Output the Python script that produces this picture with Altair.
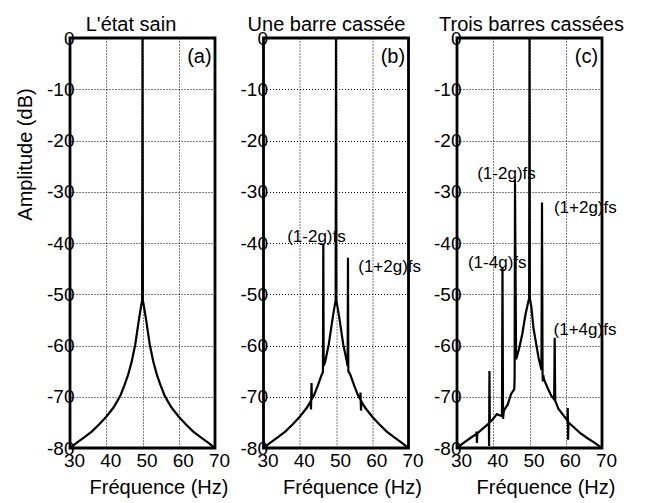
import altair as alt
import pandas as pd

FONT = "Liberation Sans"

# ---------------- data ----------------
freq_a = [30, 32, 34, 36, 38, 40, 42, 43, 44, 45, 46, 47, 48, 49, 49.5, 49.9, 50,
          50.1, 50.5, 51, 52, 53, 54, 55, 56, 57, 58, 60, 62, 64, 66, 68, 70]
amp_a = [-80, -78.9, -77.9, -76.8, -75.4, -73.9, -72.1, -70.9, -69.6, -67.8, -65.8, -63.2, -59.8, -55, -52.8, -51.2, 0,
         -51.2, -52.8, -55, -59.8, -63.2, -65.8, -67.8, -69.6, -70.9, -72.1, -73.9, -75.4, -76.8, -77.9, -78.9, -80]

freq_b = [30, 32, 34, 36, 38, 40, 42, 43.0, 43.1, 43.25, 43.35, 44, 45, 46, 46.4, 46.5, 46.6, 47, 48, 49, 49.5, 49.9, 50,
          50.1, 50.5, 51, 52, 53, 53.2, 53.3, 53.4, 54, 55, 56, 56.7, 56.75, 56.9, 57, 58, 60, 62, 64, 66, 68, 70]
amp_b = [-80, -78.9, -77.9, -76.8, -75.4, -73.9, -72.1, -70.9, -72.5, -67.3, -70.4, -69.6, -67.8, -65.8, -65.2, -40.1, -64.0, -63.2, -59.8, -55, -52.8, -51.2, 0,
         -51.2, -52.8, -55, -59.8, -63.2, -64.0, -42.9, -65.0, -65.8, -67.8, -69.6, -70.5, -69.2, -72.7, -70.9, -72.1, -73.9, -75.4, -76.8, -77.9, -78.9, -80]

freq_c = [30, 32, 34, 35.3, 35.4, 35.5, 35.6, 36, 38, 38.8, 38.85, 38.95, 39.05, 40, 41, 42.4, 42.55, 42.7, 42.85, 43, 44, 44.9, 45.8, 45.9, 46.0, 46.3,
          47.1, 48, 48.9, 49.5, 49.9, 50,
          50.1, 50.5, 51.1, 52.5, 53.3, 53.45, 53.6, 53.7, 53.8, 54, 55, 56, 56.8, 56.95, 57.1, 58, 60, 60.5, 60.55, 60.65, 60.75, 62, 64, 66, 68, 70]
amp_c = [-80, -78.9, -77.9, -77.3, -76.8, -79.0, -77.2, -76.9, -75.7, -75.2, -79.6, -65.0, -75.0, -74.3, -73.4, -73.8, -44.8, -74.3, -73.2, -72.6, -71.5, -69.5, -68.5, -66.0, -27.6, -62.7,
          -60.7, -57.8, -53.9, -52.0, -50.8, 0,
          -50.8, -52.4, -56.6, -62.4, -64.8, -32.1, -65.5, -67.0, -65.8, -66.6, -68.3, -69.8, -70.5, -58.5, -70.8, -72.4, -74.2, -74.8, -72.2, -78.4, -75.0, -75.8, -77.1, -78.1, -79.0, -80]

ann_text_b = ["(1-2g)fs", "(1+2g)fs"]
ann_f_b = [44.6, 64.8]
ann_a_b = [-38.8, -44.7]

ann_text_c = ["(1-2g)fs", "(1+2g)fs", "(1-4g)fs", "(1+4g)fs"]
ann_f_c = [43.65, 65.4, 41.1, 65.3]
ann_a_c = [-26.6, -33.1, -43.9, -56.9]

titles = ["L'état sain", "Une barre cassée", "Trois barres cassées"]
title_dx = [-11.5, -9.5, 2]
tags = ["(a)", "(b)", "(c)"]
tag_f = 65.7
tag_a = -3.8

x_ticks = [30, 40, 50, 60, 70]
y_ticks = [-80, -70, -60, -50, -40, -30, -20, -10, 0]

W, H = 145, 410


def panel(freq, amp, title, dx, tag, ann_t, ann_f, ann_a, first):
    df = pd.DataFrame({"f": freq, "a": amp, "i": list(range(len(freq)))})
    xaxis = alt.Axis(values=x_ticks, title="Fréquence (Hz)", labelOffset=4, labelPadding=3,
                     labelOverlap=False, labelFlush=False, labelBound=False,
                     titleX=W / 2 + 16, titleY=45, titleBaseline="alphabetic")
    if first:
        yaxis = alt.Axis(values=y_ticks, title="Amplitude (dB)", labelExpr="'' + datum.value",
                         labelPadding=-4, labelOverlap=False, labelFlush=False,
                         titleX=-45, titleY=116, titleAngle=270,
                         titleBaseline="middle", titleAlign="center")
    else:
        yaxis = alt.Axis(values=y_ticks, title=None, labelExpr="'' + datum.value", labelPadding=-4,
                         labelOverlap=False, labelFlush=False)
    xs = alt.Scale(domain=[30, 70], nice=False, zero=False)
    ys = alt.Scale(domain=[-80, 0], nice=False, zero=False)
    X = alt.X("f:Q", scale=xs, axis=xaxis)
    Y = alt.Y("a:Q", scale=ys, axis=yaxis)
    line = alt.Chart(df).mark_line(color="black", strokeWidth=2.2, clip=True).encode(
        x=X, y=Y, order="i:Q",
    )
    tdf = pd.DataFrame({"f": [tag_f] + ann_f, "a": [tag_a] + ann_a, "t": [tag] + ann_t})
    txt_tag = alt.Chart(tdf.iloc[:1]).mark_text(font=FONT, fontSize=20, color="black",
                                                 align="center", baseline="middle").encode(
        x=X, y=Y, text="t:N")
    layers = [line, txt_tag]
    if ann_t:
        txt_ann = alt.Chart(tdf.iloc[1:]).mark_text(font=FONT, fontSize=17, color="black",
                                                     align="center", baseline="middle").encode(
            x=X, y=Y, text="t:N")
        layers.append(txt_ann)
    return alt.layer(*layers).properties(
        width=W, height=H,
        title=alt.TitleParams(title, offset=-22, baseline="alphabetic", dx=dx, anchor="middle"),
    )


pa = panel(freq_a, amp_a, titles[0], title_dx[0], tags[0], [], [], [], True)
pb = panel(freq_b, amp_b, titles[1], title_dx[1], tags[1], ann_text_b, ann_f_b, ann_a_b, False)
pc = panel(freq_c, amp_c, titles[2], title_dx[2], tags[2], ann_text_c, ann_f_c, ann_a_c, False)

chart = alt.hconcat(pa, pb, pc, spacing=48.5, bounds="flush").properties(
    padding={"left": 5, "top": 5, "right": 5, "bottom": 0}
).configure(
    background="white"
).configure_axis(
    grid=True, gridColor="black", gridDash=[1, 2], gridWidth=1, gridOpacity=1,
    domain=False, tickSize=0, ticks=False, labelOverlap=False,
    labelFont=FONT, labelFontSize=19, labelColor="black",
    titleFont=FONT, titleFontSize=20, titleFontWeight="normal", titleColor="black",
).configure_view(
    stroke="black", strokeWidth=2.8
).configure_title(
    font=FONT, fontSize=20, fontWeight="normal", color="black"
)

chart.save("out.html", embed_options={"renderer": "svg", "actions": False})
